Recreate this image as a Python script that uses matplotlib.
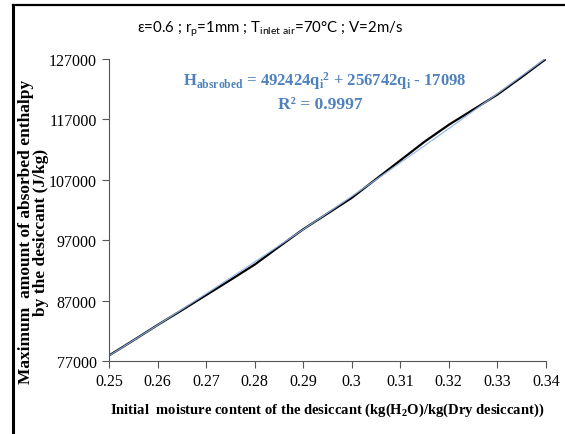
import numpy as np
import matplotlib.pyplot as plt
from matplotlib.lines import Line2D

plt.rcParams['mathtext.fontset'] = 'custom'
plt.rcParams['mathtext.rm'] = 'Liberation Serif:bold'
plt.rcParams['mathtext.it'] = 'Liberation Serif:bold'
plt.rcParams['mathtext.bf'] = 'Liberation Serif:bold'
plt.rcParams['mathtext.sf'] = 'Lato'

# moisture content vs max absorbed enthalpy
q_i = [0.25, 0.255, 0.26, 0.265, 0.27, 0.275, 0.28, 0.285, 0.29, 0.295,
       0.30, 0.305, 0.31, 0.315, 0.32, 0.325, 0.33, 0.335, 0.34]
H = [77900, 80400, 82950, 85400, 87900, 90400, 92950, 95900, 98800, 101400,
     104000, 107100, 110200, 113300, 116100, 118600, 121100, 124000, 127000]

# excel trendline coefficients
fit_coef = [492424, 256742, -17098]
x_ticks = [0.25, 0.26, 0.27, 0.28, 0.29, 0.30, 0.31, 0.32, 0.33, 0.34]
x_labels = ['0.25', '0.26', '0.27', '0.28', '0.29', '0.3', '0.31', '0.32', '0.33', '0.34']
y_ticks = [77000, 87000, 97000, 107000, 117000, 127000]

fig = plt.figure(figsize=(5.65, 4.35), dpi=100)
ax = fig.add_axes([0.193, 0.168, 0.773, 0.694])

ax.plot(q_i, H, color='black', lw=1.6)
qq = np.linspace(0.25, 0.34, 100)
ax.plot(qq, np.polyval(fit_coef, qq), color='#8fb4e3', lw=0.9, alpha=0.9)

ax.set_xlim(0.25, 0.34)
ax.set_ylim(77000, 127000)
ax.set_xticks(x_ticks)
ax.set_xticklabels(x_labels)
ax.set_yticks(y_ticks)
ax.tick_params(direction='out', length=5, color='#555555', labelsize=11.5, pad=4)
for lab in ax.get_xticklabels() + ax.get_yticklabels():
    lab.set_family('Liberation Serif')
ax.spines['top'].set_visible(False)
ax.spines['right'].set_visible(False)
for s in ['left', 'bottom']:
    ax.spines[s].set_color('#555555')

ax.set_xlabel(r'Initial  moisture content of the desiccant (kg(H$_2$O)/kg(Dry desiccant))',
              family='Liberation Serif', weight='bold', fontsize=10.5, labelpad=8)
ax.set_ylabel('Maximum  amount of absorbed enthalpy\nby the desiccant (J/kg)',
              family='Liberation Serif', weight='bold', fontsize=12.5, linespacing=0.95)
ax.yaxis.set_label_coords(-0.137, 0.43)

ax.text(0.494, 0.93, r'H$_{absrobed}$ = 492424q$_{i}$$^2$ + 256742q$_{i}$ - 17098',
        transform=ax.transAxes, ha='center', va='center', color='#4f81bd',
        family='Liberation Serif', weight='bold', fontsize=12)
ax.text(0.483, 0.85, 'R² = 0.9997', transform=ax.transAxes, ha='center', va='center',
        color='#4f81bd', family='Liberation Serif', weight='bold', fontsize=12.5)

fig.text(0.478, 0.933, r'ε=0.6 ; r$_\mathsf{p}$=1mm ; T$_\mathsf{inlet\ air}$=70°C ; V=2m/s',
         ha='center', va='center', family=['Lato', 'DejaVu Sans'], fontsize=10.8)

# outer frame (left and top only)
fig.add_artist(Line2D([13 / 565, 13 / 565], [0, 1 - 6 / 435], color='black', lw=2.2,
                      transform=fig.transFigure))
fig.add_artist(Line2D([13 / 565, 1], [1 - 6 / 435, 1 - 6 / 435], color='black', lw=1.6,
                      transform=fig.transFigure))

fig.savefig('out.png', dpi=100)
